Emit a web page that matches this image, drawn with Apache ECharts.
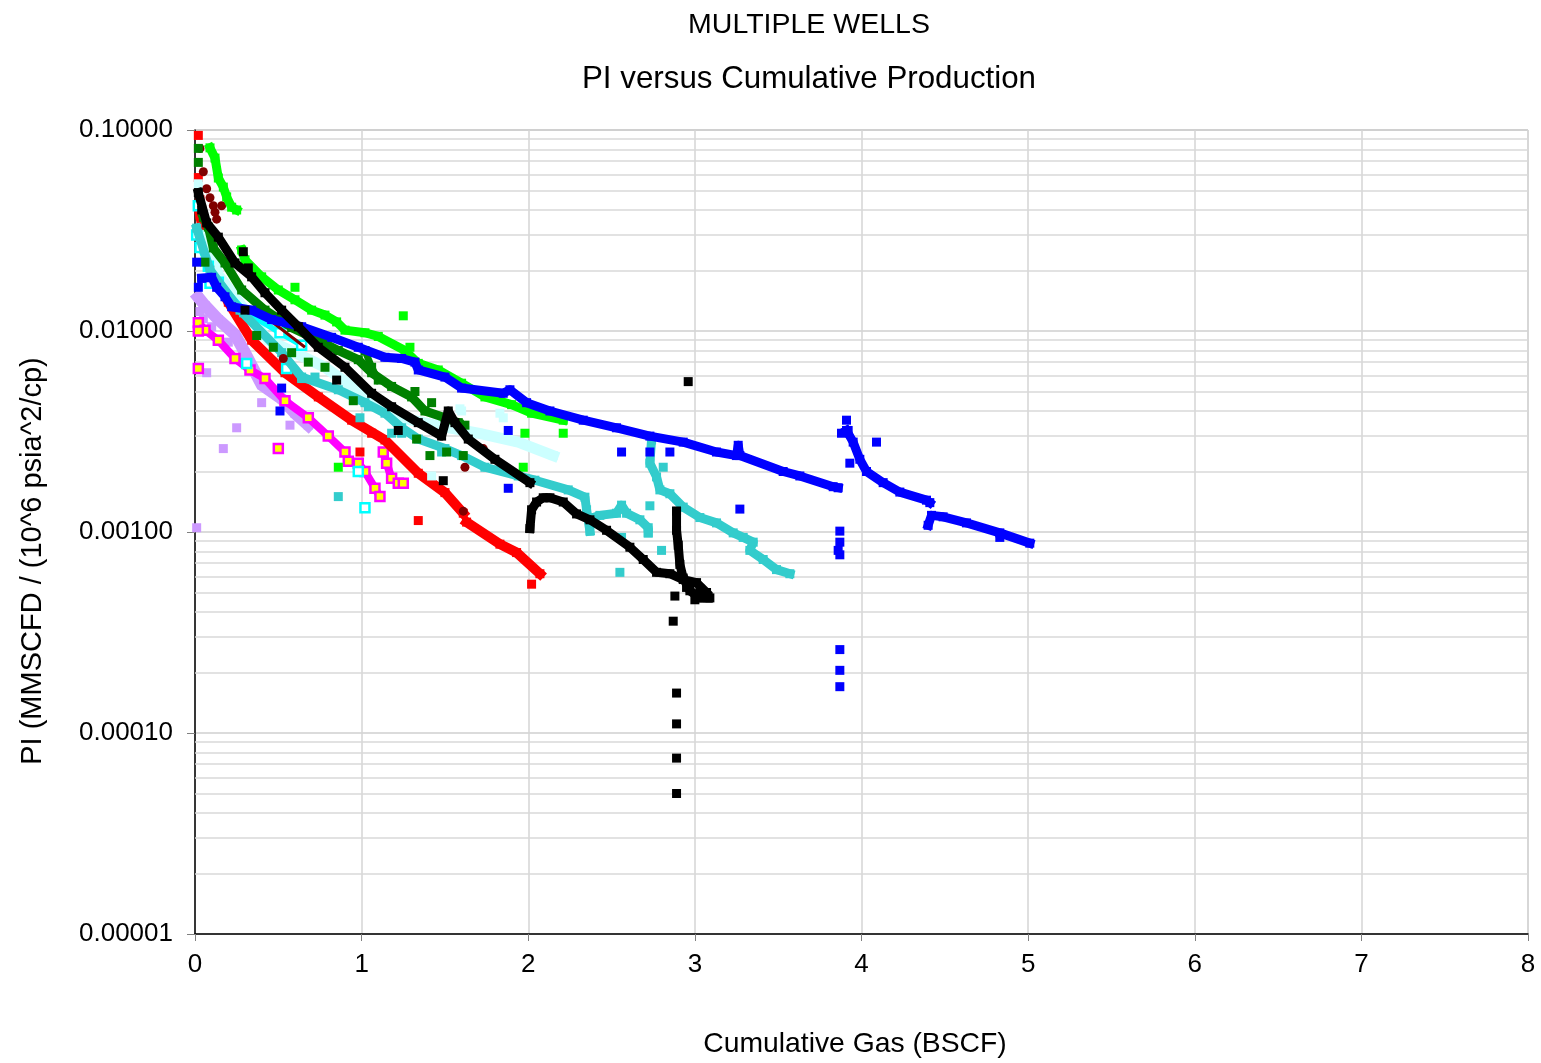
<!DOCTYPE html>
<html><head><meta charset="utf-8">
<script src="https://cdn.jsdelivr.net/npm/echarts/dist/echarts.min.js"></script>
<style>html,body{margin:0;padding:0;background:#fff}#c{width:1541px;height:1063px}</style>
</head><body><div id="c"></div>
<script>
// ---------- text ----------
const titleMain = 'MULTIPLE WELLS';
const titleSub = 'PI versus Cumulative Production';
const xName = 'Cumulative Gas (BSCF)';
const yName = 'PI (MMSCFD / (10^6 psia^2/cp)';
const xMin = 0, xMax = 8, xStep = 1;
const yMin = 0.00001, yMax = 0.1;
const minorMult = [2,3,4,5,6,7,8,9];
const decades = [-5,-4,-3,-2];

// ---------- data (x = BSCF, y = PI) ----------
const lavenderTrack = [[0.02,0.0147],[0.06,0.0134],[0.14,0.0114],[0.24,0.0096],[0.30,0.0078],[0.40,0.0054],[0.52,0.0046],[0.60,0.0039],[0.68,0.0034]];
const lavenderPts = [[0.01,0.00105],[0.17,0.0026],[0.25,0.0033],[0.40,0.0044],[0.07,0.0062],[0.03,0.0125],[0.57,0.0034],[0.05,0.0115],[0.10,0.0105],[0.20,0.0088],[0.34,0.0066]];

const magentaSeg1 = [[0.02,0.0110],[0.06,0.0101],[0.14,0.0090],[0.24,0.0073],[0.33,0.0064],[0.42,0.0058],[0.54,0.0045],[0.68,0.0037],[0.80,0.0030],[0.90,0.0025]];
const magentaSeg2 = [[0.92,0.00225],[0.98,0.0022],[1.02,0.0020],[1.08,0.00165],[1.11,0.00150]];
const magentaSeg3 = [[1.13,0.0025],[1.15,0.0022],[1.18,0.00185],[1.22,0.00175],[1.25,0.00175]];
const magentaPts = [[0.02,0.0065],[0.50,0.0026],[0.02,0.0100]];

const redSeg1 = [[0.03,0.0377],[0.09,0.0221],[0.15,0.0169],[0.20,0.0139],[0.34,0.0090],[0.54,0.0062],[0.74,0.0047],[0.94,0.0036],[1.14,0.00287],[1.34,0.00196],[1.50,0.00157],[1.61,0.00124]];
const redSeg2 = [[1.63,0.00112],[1.83,0.00087],[1.93,0.00079],[2.07,0.00062]];
const redPts = [[0.02,0.094],[0.02,0.058],[0.03,0.045],[1.34,0.00114],[2.02,0.00055],[1.06,0.0031],[0.99,0.0025]];

const lightCyanTrack = [[0.06,0.030],[0.14,0.0190],[0.24,0.0148],[0.34,0.0114],[0.44,0.0090],[0.60,0.0078],[0.78,0.0066],[1.06,0.0045],[1.24,0.0037],[1.44,0.0034],[1.70,0.0031],[1.94,0.0028],[2.15,0.0024]];
const lightCyanPts = [[0.02,0.054],[1.42,0.0019],[1.85,0.0037],[1.59,0.0041],[1.60,0.0040],[1.83,0.0039]];

const cyanTrack = [[0.03,0.026],[0.08,0.021],[0.14,0.0175],[0.30,0.0125],[0.51,0.0098],[0.64,0.0085]];
const cyanPts = [[0.02,0.042],[0.01,0.030],[0.09,0.0173],[0.31,0.0069],[0.55,0.0065],[0.98,0.0020],[1.02,0.00132]];

const turqSeg1 = [[0.01,0.0325],[0.09,0.0201],[0.27,0.0127],[0.52,0.0078],[0.64,0.0059],[0.86,0.0051],[1.02,0.0044],[1.14,0.0039],[1.24,0.0033],[1.34,0.0029],[1.50,0.0026],[1.60,0.0024],[1.74,0.0021],[1.94,0.0019],[2.04,0.00181],[2.24,0.00162],[2.34,0.00149],[2.35,0.00129],[2.37,0.00101]];
const turqSeg2 = [[2.39,0.00118],[2.43,0.00121],[2.53,0.00124],[2.56,0.00136],[2.59,0.00124],[2.67,0.00115],[2.72,0.00105],[2.72,0.00099]];
const turqSeg3 = [[2.74,0.00287],[2.73,0.0022],[2.77,0.00188],[2.79,0.00162],[2.85,0.00155],[2.93,0.00133],[3.03,0.00118],[3.13,0.00111],[3.23,0.00099],[3.29,0.00094],[3.35,0.00089],[3.33,0.00081],[3.41,0.00073],[3.49,0.00065],[3.57,0.00062]];
const turqPts = [[0.86,0.00150],[0.99,0.0037],[1.18,0.0031],[1.24,0.0031],[1.04,0.0042],[1.48,0.0025],[2.73,0.00135],[2.56,0.00094],[2.80,0.00081],[2.55,0.00063],[2.81,0.0021],[0.64,0.0058],[0.72,0.0059]];

const darkRedTrack = [[0.38,0.0125],[0.52,0.0102],[0.66,0.0083]];
const darkRedPts = [[0.03,0.081],[0.05,0.062],[0.07,0.051],[0.09,0.046],[0.11,0.042],[0.16,0.042],[0.12,0.039],[0.13,0.036],[0.53,0.0073],[1.62,0.0021],[1.61,0.00127],[1.73,0.0026]];

const limeSeg1 = [[0.09,0.0815],[0.12,0.0725],[0.14,0.0577],[0.17,0.0520],[0.19,0.0465],[0.22,0.0413],[0.25,0.0400]];
const limeSeg2 = [[0.28,0.0253],[0.30,0.0226],[0.40,0.0186],[0.50,0.0160],[0.60,0.0143],[0.70,0.0127],[0.78,0.0120],[0.85,0.0111],[0.90,0.0101],[1.02,0.0098],[1.10,0.0094],[1.26,0.0080],[1.34,0.0069],[1.46,0.0064],[1.60,0.0055],[1.74,0.0047],[1.90,0.0043],[2.02,0.0039],[2.21,0.0036]];
const limePts = [[1.25,0.0119],[0.86,0.0021],[1.97,0.0021],[1.98,0.0031],[2.21,0.0031],[0.60,0.0165],[1.29,0.0083]];

const dkGreenSeg1 = [[0.05,0.0368],[0.08,0.0329],[0.11,0.0259],[0.18,0.0218],[0.28,0.0160],[0.42,0.0127],[0.58,0.0104],[0.74,0.0090],[0.86,0.0080],[0.98,0.0072],[1.06,0.0062],[1.18,0.0053],[1.30,0.0047],[1.38,0.0040],[1.50,0.0037],[1.58,0.0035]];
const dkGreenSeg2 = [[1.02,0.0080],[1.06,0.0066],[1.10,0.0057]];
const dkGreenPts = [[0.02,0.081],[0.02,0.069],[0.06,0.022],[0.37,0.0095],[0.47,0.0083],[0.58,0.0078],[0.68,0.0070],[0.78,0.0066],[0.95,0.0045],[1.32,0.0050],[1.33,0.0029],[1.41,0.0024],[1.51,0.0025],[1.61,0.0024],[1.42,0.0044],[1.62,0.0034]];

const blueSeg1 = [[0.04,0.0183],[0.10,0.0185],[0.13,0.0165],[0.18,0.0148],[0.22,0.0132],[0.34,0.0127],[0.46,0.0114],[0.64,0.0105],[0.82,0.0093],[0.98,0.0083],[1.14,0.0074],[1.24,0.0073],[1.32,0.0070],[1.34,0.0064],[1.50,0.0059],[1.60,0.0052],[1.85,0.0049],[1.89,0.0051],[1.99,0.0044],[2.13,0.0040],[2.33,0.0036],[2.53,0.0033],[2.73,0.0030],[2.93,0.0028],[3.13,0.0025],[3.25,0.0024],[3.26,0.0027],[3.27,0.0024],[3.53,0.0020],[3.63,0.0019],[3.83,0.00168],[3.86,0.00166]];
const blueSeg2 = [[3.91,0.0032],[3.95,0.0028],[3.99,0.0023],[4.03,0.0020],[4.13,0.00176],[4.23,0.00158],[4.39,0.00144],[4.41,0.00140]];
const blueSeg3 = [[4.40,0.00108],[4.42,0.00121],[4.49,0.00119],[4.63,0.00111],[4.83,0.00099],[5.01,0.00088]];
const bluePts = [[3.91,0.0036],[3.88,0.0031],[3.92,0.0032],[4.09,0.0028],[3.93,0.0022],[3.87,0.00101],[3.87,0.00089],[3.86,0.00081],[3.87,0.00077],[3.87,0.00026],[3.87,0.000205],[3.87,0.00017],[2.56,0.0025],[2.73,0.0025],[2.85,0.0025],[3.27,0.0013],[1.88,0.0032],[1.88,0.00165],[0.52,0.0052],[0.51,0.0040],[0.01,0.022],[0.02,0.0165],[4.83,0.00094]];

const blackSeg1 = [[0.02,0.0488],[0.07,0.0345],[0.14,0.0293],[0.24,0.0218],[0.34,0.0186],[0.42,0.0155],[0.52,0.0127],[0.62,0.0105],[0.74,0.0083],[0.90,0.0066],[1.06,0.0049],[1.18,0.0042],[1.34,0.0035],[1.48,0.0030],[1.52,0.0040],[1.56,0.0035],[1.64,0.0029],[1.80,0.0023],[2.01,0.00176]];
const blackSeg2 = [[2.01,0.00104],[2.02,0.00129],[2.05,0.00141],[2.09,0.00148],[2.13,0.00148],[2.21,0.00141],[2.29,0.00123],[2.37,0.00115],[2.47,0.00102],[2.61,0.00084],[2.69,0.00073],[2.77,0.00063],[2.85,0.00062],[2.93,0.00058],[3.01,0.00056],[3.07,0.00050]];
const blackSeg3 = [[2.89,0.00127],[2.89,0.00102],[2.90,0.00086],[2.91,0.00069],[2.93,0.00059],[2.97,0.00051],[3.03,0.00047],[3.08,0.00047]];
const blackPts = [[2.96,0.0056],[2.88,0.00048],[2.87,0.00036],[2.89,0.000158],[2.89,0.000111],[2.89,0.000075],[2.89,0.00005],[0.29,0.0248],[0.32,0.0206],[0.30,0.0127],[0.85,0.0057],[1.22,0.0032],[1.49,0.0018],[3.03,0.00052],[3.06,0.00049],[3.09,0.00047],[3.00,0.00046],[2.95,0.00053],[0.04,0.040]];

// ---------- helpers ----------
function band(data, color, z, width, itemStyle){
  return {type:'line', data, z, silent:true, symbol:'rect', symbolSize:9, showSymbol:true,
    lineStyle:{color, width, cap:'square', join:'round'},
    itemStyle: itemStyle || {color, opacity:1}, emphasis:{disabled:true}};
}
function dots(data, color, z, symbol, itemStyle){
  return {type:'scatter', data, z, silent:true, symbol: symbol || 'rect', symbolSize:9,
    itemStyle: itemStyle || {color, opacity:1}, emphasis:{disabled:true}};
}
const magentaItem = {color:'#FFFF00', borderColor:'#FF00FF', borderWidth:2.5, opacity:1};
const cyanItem = {color:'#FFFFFF', borderColor:'#00FFFF', borderWidth:2.5, opacity:1};

const minorVals = [];
decades.forEach(d => minorMult.forEach(m => minorVals.push(Number((m*Math.pow(10,d)).toPrecision(2)))));
const minorGrid = {type:'lines', coordinateSystem:'cartesian2d', z:1, silent:true, polyline:false,
  lineStyle:{color:'#d9d9d9', width:1.5, opacity:1},
  data: minorVals.map(v => ({coords:[[xMin,v],[xMax,v]]}))};

const series = [
  minorGrid,
  band(lavenderTrack,'#CC99FF',3,12), dots(lavenderPts,'#CC99FF',3),
  band(magentaSeg1,'#FF00FF',4,8,magentaItem), band(magentaSeg2,'#FF00FF',4,8,magentaItem), band(magentaSeg3,'#FF00FF',4,8,magentaItem),
  dots(magentaPts,'#FF00FF',4,'rect',magentaItem),
  band(redSeg1,'#FF0000',5,10), band(redSeg2,'#FF0000',5,10), dots(redPts,'#FF0000',5),
  band(lightCyanTrack,'#CCFFFF',6,11), dots(lightCyanPts,'#CCFFFF',6),
  band(cyanTrack,'#00FFFF',7,6,cyanItem), dots(cyanPts,'#00FFFF',7,'rect',cyanItem),
  band(turqSeg1,'#33CCCC',8,9), band(turqSeg2,'#33CCCC',8,9), band(turqSeg3,'#33CCCC',8,9), dots(turqPts,'#33CCCC',8),
  {type:'line', data:darkRedTrack, z:9, silent:true, symbol:'none', lineStyle:{color:'#800000', width:3}},
  dots(darkRedPts,'#800000',9,'circle'),
  band(limeSeg1,'#00FF00',10,9), band(limeSeg2,'#00FF00',10,9), dots(limePts,'#00FF00',10),
  band(dkGreenSeg1,'#008000',11,9), band(dkGreenSeg2,'#008000',11,7), dots(dkGreenPts,'#008000',11),
  band(blueSeg1,'#0000FF',12,9), band(blueSeg2,'#0000FF',12,9), band(blueSeg3,'#0000FF',12,9), dots(bluePts,'#0000FF',12),
  band(blackSeg1,'#000000',13,9), band(blackSeg2,'#000000',13,9), band(blackSeg3,'#000000',13,9), dots(blackPts,'#000000',13)
];

const chart = echarts.init(document.getElementById('c'), null, {renderer:'canvas'});
const font = '"Liberation Sans", Arial, sans-serif';
chart.setOption({
  animation:false,
  backgroundColor:'#ffffff',
  title:[
    {text:titleMain, left:804, top:6, textAlign:'center', textStyle:{fontFamily:font, fontWeight:'normal', fontSize:28.5, color:'#000'}},
    {text:titleSub, left:804, top:59, textAlign:'center', textStyle:{fontFamily:font, fontWeight:'normal', fontSize:31.3, color:'#000'}}
  ],
  graphic:[
    {type:'text', x:33, y:561, rotation:Math.PI/2, silent:true,
      style:{text:yName, fill:'#000', font:'29px "Liberation Sans", Arial, sans-serif', textAlign:'center', textVerticalAlign:'middle'}},
    {type:'text', x:855, y:1044, silent:true,
      style:{text:xName, fill:'#000', font:'28.3px "Liberation Sans", Arial, sans-serif', textAlign:'center', textVerticalAlign:'middle'}}
  ],
  grid:{left:195, right:13, top:130, bottom:129, show:true, borderColor:'#c0c0c0', borderWidth:1, backgroundColor:'transparent'},
  xAxis:{type:'value', min:xMin, max:xMax, interval:xStep,
    axisLine:{show:true, onZero:false, lineStyle:{color:'#000', width:1.5}},
    axisTick:{show:true, length:7, lineStyle:{color:'#808080'}},
    axisLabel:{fontFamily:font, fontSize:26, color:'#000', margin:18},
    splitLine:{show:true, lineStyle:{color:'#d4d4d4', width:1.5}}},
  yAxis:{type:'log', logBase:10, min:yMin, max:yMax,
    axisLine:{show:true, onZero:false, lineStyle:{color:'#000', width:1.5}},
    axisTick:{show:true, length:8, lineStyle:{color:'#808080'}},
    axisLabel:{fontFamily:font, fontSize:26, color:'#000', margin:22, formatter:v=>Number(v).toFixed(5)},
    splitLine:{show:true, lineStyle:{color:'#cfcfcf', width:1.5}}},
  series
});
</script></body></html>
